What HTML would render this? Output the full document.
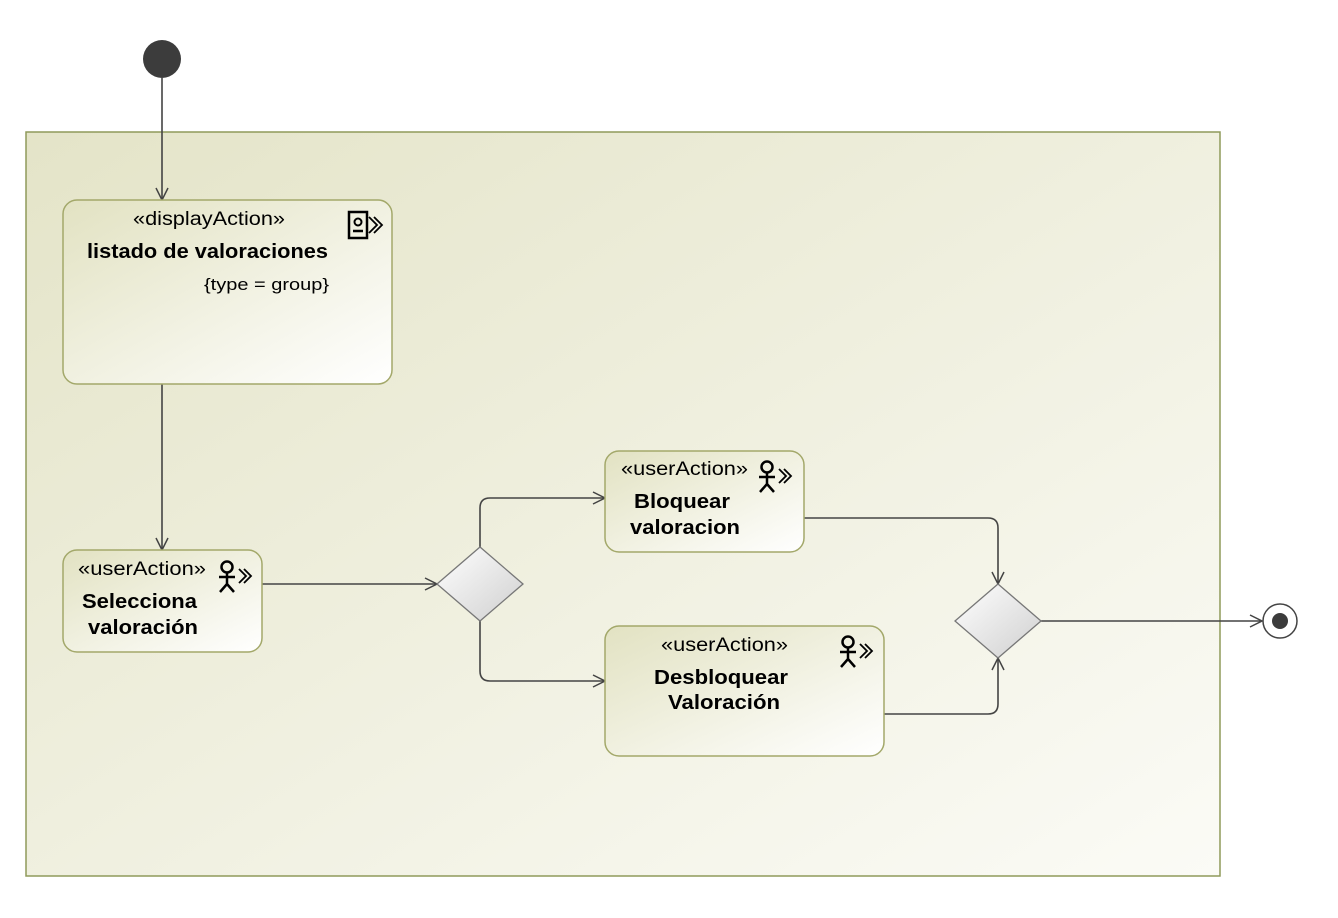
<!DOCTYPE html>
<html><head><meta charset="utf-8"><style>body{margin:0;background:#fff}svg{display:block}text{font-family:"Liberation Sans",sans-serif;fill:#000}</style></head><body>
<svg width="1338" height="918" viewBox="0 0 1338 918" xmlns="http://www.w3.org/2000/svg">
<defs>
<linearGradient id="gf" x1="0" y1="0" x2="1" y2="1"><stop offset="0" stop-color="#e4e4c8"/><stop offset="1" stop-color="#fbfbf6"/></linearGradient>
<linearGradient id="gn" x1="0" y1="0" x2="1" y2="1"><stop offset="0" stop-color="#e2e2c2"/><stop offset="1" stop-color="#ffffff"/></linearGradient>
<linearGradient id="gd" x1="0" y1="0" x2="1" y2="1"><stop offset="0" stop-color="#ffffff"/><stop offset="1" stop-color="#cfcfcf"/></linearGradient>
<marker id="a" markerWidth="14" markerHeight="14" refX="13" refY="7" orient="auto" markerUnits="userSpaceOnUse"><path d="M1,1 L13,7 L1,13" fill="none" stroke="#444" stroke-width="1.5"/></marker>
<g id="user"><circle cx="10" cy="8" r="5.5" fill="none" stroke="#000" stroke-width="2.5"/><path d="M10,13.5V25M2,18H18M10,25L3,33M10,25L17,33" stroke="#000" stroke-width="2.5" fill="none"/><path d="M22,10L29,17L22,24M27,10L34,17L27,24" stroke="#000" stroke-width="1.8" fill="none"/></g>
</defs>
<rect x="26" y="132" width="1194" height="744" fill="url(#gf)" stroke="#8f9a5a" stroke-width="1.5"/>
<circle cx="162" cy="59" r="19" fill="#3c3c3c"/>
<g fill="none" stroke="#444" stroke-width="1.6">
<path d="M162,78V200" marker-end="url(#a)"/>
<path d="M162,384V550" marker-end="url(#a)"/>
<path d="M262,584H437" marker-end="url(#a)"/>
<path d="M480,547V508Q480,498 490,498H605" marker-end="url(#a)"/>
<path d="M480,621V671Q480,681 490,681H605" marker-end="url(#a)"/>
<path d="M804,518H988Q998,518 998,528V584" marker-end="url(#a)"/>
<path d="M884,714H988Q998,714 998,704V658" marker-end="url(#a)"/>
<path d="M1041,621H1262" marker-end="url(#a)"/>
</g>
<g stroke="#a3a86a" stroke-width="1.5" fill="url(#gn)">
<rect x="63" y="200" width="329" height="184" rx="14"/>
<rect x="63" y="550" width="199" height="102" rx="14"/>
<rect x="605" y="451" width="199" height="101" rx="14"/>
<rect x="605" y="626" width="279" height="130" rx="14"/>
</g>
<g stroke="#777" stroke-width="1.3" fill="url(#gd)">
<path d="M437,584L480,547L523,584L480,621Z"/>
<path d="M955,621L998,584L1041,621L998,658Z"/>
</g>
<circle cx="1280" cy="621" r="17" fill="#fff" stroke="#444" stroke-width="1.5"/>
<circle cx="1280" cy="621" r="8" fill="#3c3c3c"/>
<g transform="translate(348,211)"><rect x="1" y="1" width="18" height="26" fill="none" stroke="#000" stroke-width="2.5"/><circle cx="10" cy="11" r="3.5" fill="none" stroke="#000" stroke-width="2"/><path d="M5,20H15" stroke="#000" stroke-width="2.5"/><path d="M21,6L29,14L21,22M26,6L34,14L26,22" stroke="#000" stroke-width="1.8" fill="none"/></g>
<use href="#user" x="217" y="559"/>
<use href="#user" x="757" y="459"/>
<use href="#user" x="838" y="634"/>
<g font-size="19" lengthAdjust="spacingAndGlyphs">
<text x="133" y="225" textLength="152" lengthAdjust="spacingAndGlyphs">«displayAction»</text>
<text x="87" y="258" font-size="20" font-weight="bold" textLength="241" lengthAdjust="spacingAndGlyphs">listado de valoraciones</text>
<text x="204" y="290" font-size="17" textLength="125" lengthAdjust="spacingAndGlyphs">{type = group}</text>
<text x="78" y="575" textLength="128" lengthAdjust="spacingAndGlyphs">«userAction»</text>
<text x="82" y="608" font-size="20" font-weight="bold" textLength="115" lengthAdjust="spacingAndGlyphs">Selecciona</text>
<text x="88" y="634" font-size="20" font-weight="bold" textLength="110" lengthAdjust="spacingAndGlyphs">valoración</text>
<text x="621" y="475" textLength="127" lengthAdjust="spacingAndGlyphs">«userAction»</text>
<text x="634" y="508" font-size="20" font-weight="bold" textLength="96" lengthAdjust="spacingAndGlyphs">Bloquear</text>
<text x="630" y="534" font-size="20" font-weight="bold" textLength="110" lengthAdjust="spacingAndGlyphs">valoracion</text>
<text x="661" y="651" textLength="127" lengthAdjust="spacingAndGlyphs">«userAction»</text>
<text x="654" y="684" font-size="20" font-weight="bold" textLength="134" lengthAdjust="spacingAndGlyphs">Desbloquear</text>
<text x="668" y="709" font-size="20" font-weight="bold" textLength="112" lengthAdjust="spacingAndGlyphs">Valoración</text>
</g>
</svg>
</body></html>
